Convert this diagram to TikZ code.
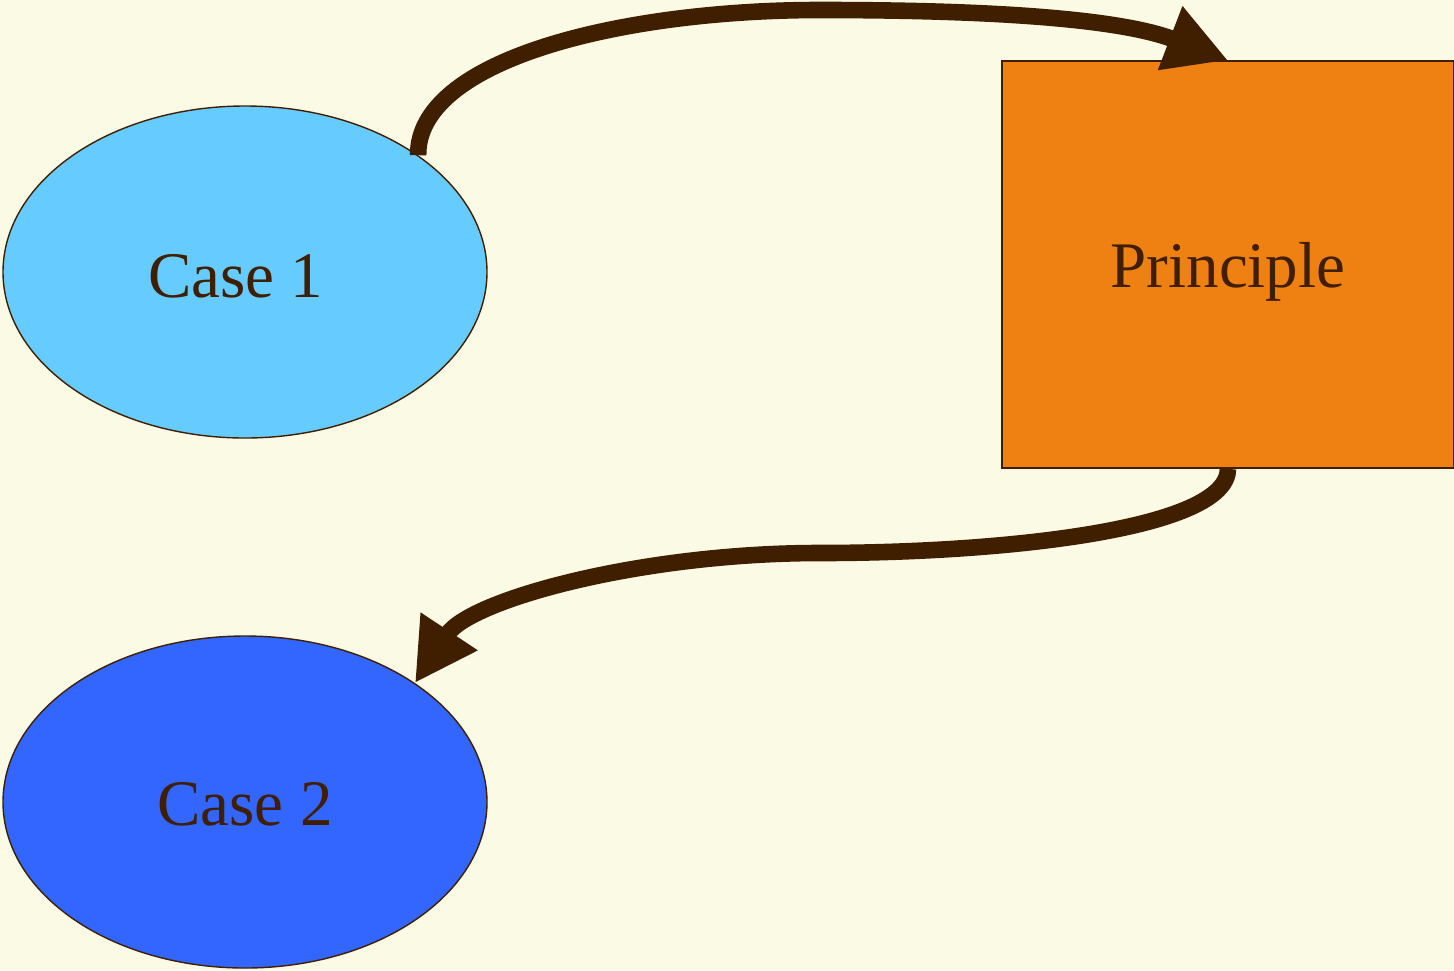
\documentclass[tikz,border=0pt]{standalone}
\usepackage{fontspec}
\setmainfont{Liberation Serif}
\usetikzlibrary{arrows.meta,shapes.geometric}
\definecolor{bg}{HTML}{FBFAE4}
\definecolor{ink}{HTML}{3F1F00}
\definecolor{caseone}{HTML}{66CCFF}
\definecolor{casetwo}{HTML}{3366FF}
\definecolor{princ}{HTML}{EF8012}
\tikzset{
  casenode/.style={ellipse, draw=ink, line width=0.7pt, minimum width=242pt, minimum height=166pt, inner sep=0pt, text=ink, text depth=0pt, font=\fontsize{32.5}{38}\selectfont},
  princnode/.style={rectangle, draw=ink, line width=0.7pt, fill=princ, minimum width=226pt, minimum height=203.5pt, inner sep=0pt, text=ink, text depth=0pt, text height=23pt, font=\fontsize{32.5}{38}\selectfont},
  link/.style={draw=ink, line width=8.3pt, -{Triangle[length=31pt,width=32pt]}}
}
\begin{document}
\begin{tikzpicture}[x=0.5pt,y=-0.5pt]
\fill[bg] (0,0) rectangle (1454,970);
\useasboundingbox (0,0) rectangle (1454,970);
\node[casenode, fill=caseone, text height=25pt] (c1) at (245,272) {\kern-9pt Case 1};
\node[casenode, fill=casetwo, text height=23pt] (c2) at (245,802) {Case 2};
\node[princnode] (p) at (1228,264.5) {Principle};
\draw[link] (c1.34) .. controls (417,60) and (620,10) .. (820,10) .. controls (950,10) and (1110,15) .. (p.north);
\draw[link] (p.south) .. controls (1228,530) and (1000,553) .. (820,553) .. controls (640,553) and (470,600) .. (c2.35);
\end{tikzpicture}
\end{document}
